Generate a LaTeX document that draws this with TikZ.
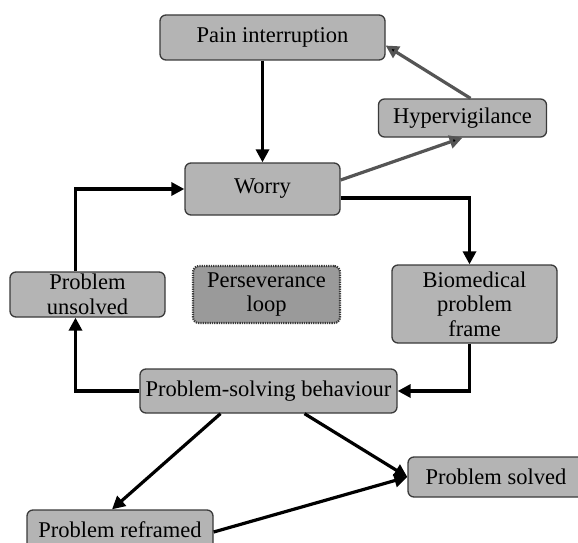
\documentclass[tikz,border=0pt]{standalone}
\usepackage{fontspec}
\setmainfont{Liberation Serif}
\usetikzlibrary{arrows.meta}
\definecolor{boxfill}{HTML}{B4B4B4}
\definecolor{loopfill}{HTML}{9A9A9A}
\definecolor{boxline}{HTML}{3A3A3A}
\definecolor{greyarrow}{HTML}{555555}
\begin{document}
\begin{tikzpicture}[x=1pt,y=-1pt,
  box/.style={draw=boxline, line width=1.3pt, fill=boxfill, rounded corners=6pt,
    align=center, inner sep=0pt, font=\fontsize{22.5}{24.5}\selectfont},
  loopbox/.style={box, fill=loopfill, densely dotted, line width=2.2pt},
  link/.style={line width=3.2pt, draw=black, -{Triangle[length=13pt,width=13pt]}},
  greylink/.style={link, draw=greyarrow, -{Triangle[length=13pt,width=13pt,fill=black]}}]
\useasboundingbox (0,0) rectangle (578,543);
% nodes
\node[box, minimum width=225pt, minimum height=45pt] (pain) at (272.5,37.5) {Pain interruption};
\node[box, minimum width=168pt, minimum height=38pt] (hyper) at (462.5,118) {Hypervigilance};
\node[box, minimum width=155pt, minimum height=52pt] (worry) at (262.5,189) {Worry};
\node[box, minimum width=155pt, minimum height=45pt] (unsolved) at (87.5,294.5) {Problem\\unsolved};
\node[loopbox, minimum width=147pt, minimum height=57pt] (loop) at (266.5,294.5) {Perseverance\\loop};
\node[box, minimum width=165pt, minimum height=78pt] (bio) at (474.5,304) {Biomedical\\problem\\frame};
\node[box, minimum width=257pt, minimum height=44pt] (psb) at (268.5,391) {Problem-solving behaviour};
\node[box, minimum width=176pt, minimum height=40pt] (solved) at (496,477) {Problem solved};
\node[box, minimum width=186pt, minimum height=40pt] (reframed) at (120,530) {Problem reframed};
% connectors
\draw[link] (worry.north |- pain.south) -- (worry.north);
\draw[greylink] ([yshift=9pt]worry.east) -- (hyper.south);
\draw[greylink] ([xshift=8pt]hyper.north) -- ([yshift=-8pt]pain.east);
\draw[link] ([yshift=-9pt]worry.east) -| ([xshift=-5pt]bio.north);
\draw[link] ([xshift=-5pt]bio.south) |- (psb.east);
\draw[link] (psb.west) -| ([xshift=-12pt]unsolved.south);
\draw[link] ([xshift=-12pt]unsolved.north) |- (worry.west);
\draw[link] ([xshift=-48pt]psb.south) -- ([xshift=-8pt]reframed.north);
\draw[link] ([xshift=36pt]psb.south) -- (solved.west);
\draw[link] ([yshift=-2pt]reframed.east) -- (solved.west);
\end{tikzpicture}
\end{document}
